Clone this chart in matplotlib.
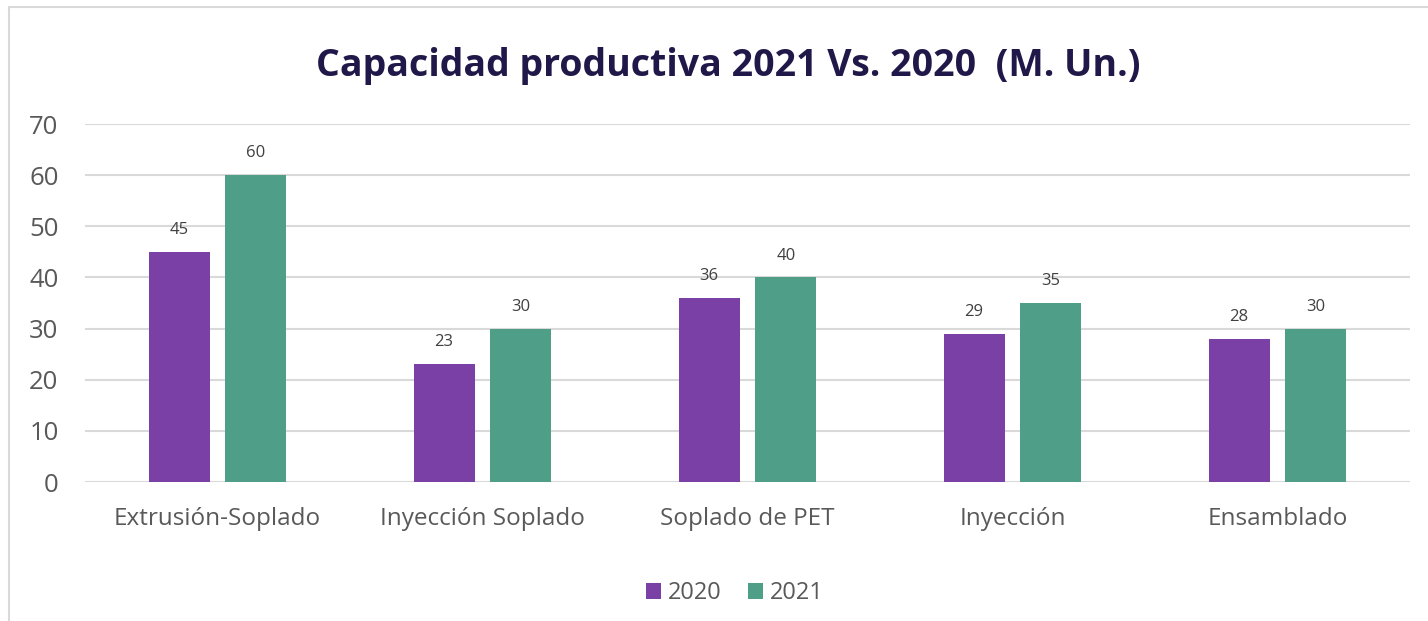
import matplotlib.pyplot as plt
import matplotlib.patches as mpatches
import numpy as np

# Data
categories = ['Extrusión-Soplado', 'Inyección Soplado', 'Soplado de PET', 'Inyección', 'Ensamblado']
values_2020 = [45, 23, 36, 29, 28]
values_2021 = [60, 30, 40, 35, 30]
series_labels = ['2020', '2021']

color_2020 = '#7A40A5'
color_2021 = '#4E9E88'
text_color = '#595959'
title_color = '#21184A'

plt.rcParams['font.family'] = ['Open Sans', 'DejaVu Sans']

fig = plt.figure(figsize=(14.28, 6.21), dpi=100)
ax = fig.add_axes([85 / 1428, 1 - 482 / 621, 1325 / 1428, 358 / 621])

x = np.arange(len(categories))
width = 0.23
offset = 0.145

bars1 = ax.bar(x - offset, values_2020, width, color=color_2020, label=series_labels[0], zorder=3)
bars2 = ax.bar(x + offset, values_2021, width, color=color_2021, label=series_labels[1], zorder=3)

for bars in (bars1, bars2):
    for b in bars:
        ax.annotate(f'{b.get_height():.0f}', (b.get_x() + b.get_width() / 2, b.get_height()),
                    xytext=(0, 10), textcoords='offset points', ha='center', va='bottom',
                    fontsize=12, color='#404040')

# Axes styling
ax.set_xlim(-0.5, len(categories) - 0.5)
ax.set_ylim(0, 70)
ax.set_yticks(range(0, 71, 10))
ax.yaxis.grid(True, color='#D9D9D9', linewidth=1.5, zorder=0)
ax.set_axisbelow(True)
for s in ax.spines.values():
    s.set_visible(False)
ax.tick_params(axis='both', length=0, colors=text_color)
ax.tick_params(axis='y', pad=19, labelsize=18.5)
ax.tick_params(axis='x', pad=18, labelsize=17.5)
ax.set_xticks(x)
ax.set_xticklabels(categories)

fig.text(728 / 1428, 1 - 66 / 621, 'Capacidad productiva 2021 Vs. 2020  (M. Un.)',
         ha='center', va='center', fontsize=27, fontweight='bold', color=title_color)

# Legend
handles = [mpatches.Patch(facecolor=color_2020, label=series_labels[0]),
           mpatches.Patch(facecolor=color_2021, label=series_labels[1])]
fig.legend(handles=handles, loc='center', bbox_to_anchor=(735 / 1428, 1 - 593 / 621), ncol=2,
           frameon=False, fontsize=17, labelcolor=text_color, handlelength=0.65, handleheight=0.65,
           handletextpad=0.3, columnspacing=1.1)

# Chart border (left and top visible only)
fig.add_artist(mpatches.Rectangle((9 / 1428, -0.1), 1.2, 1 - 7 / 621 + 0.1,
                                  transform=fig.transFigure, fill=False,
                                  edgecolor='#D9D9D9', linewidth=1.5))

fig.savefig('out.png', dpi=100)
